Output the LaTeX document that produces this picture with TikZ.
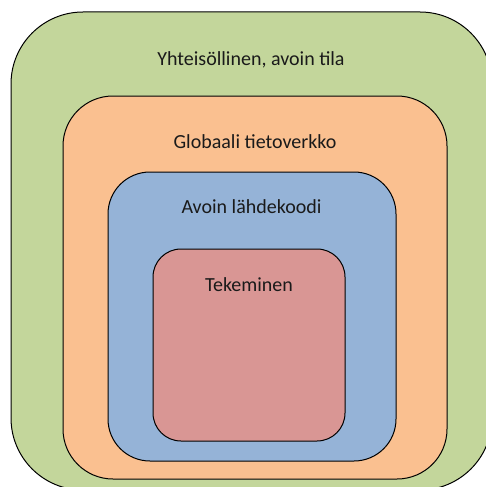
\documentclass[tikz,border=0pt]{standalone}
\usepackage{fontspec}
\setmainfont{Carlito}
\definecolor{layergreen}{HTML}{C3D69B}
\definecolor{layerorange}{HTML}{FAC090}
\definecolor{layerblue}{HTML}{95B3D7}
\definecolor{layerred}{HTML}{D99694}
\definecolor{labeltext}{HTML}{1A1A1A}
\begin{document}
\begin{tikzpicture}[x=1pt,y=-1pt,
  layer/.style={draw=black, line width=1pt, rectangle, inner sep=0pt, outer sep=0pt},
  layertext/.style={anchor=base, inner sep=0pt, text=labeltext, font=\fontsize{20}{24}\selectfont}]
  \useasboundingbox (0,0) rectangle (486,487);
  \begin{scope}
    \clip (0,0) rectangle (486,487);
    % nested rounded layers, outermost first
    \node[layer, fill=layergreen, rounded corners=72pt, minimum width=481pt, minimum height=478pt] (space) at (251.5,251) {};
    \node[layer, fill=layerorange, rounded corners=50pt, minimum width=384pt, minimum height=383pt] (net) at (255,287.5) {};
    \node[layer, fill=layerblue, rounded corners=42pt, minimum width=288pt, minimum height=289pt] (oss) at (252,316.5) {};
    \node[layer, fill=layerred, rounded corners=28pt, minimum width=192pt, minimum height=192pt] (doing) at (249,345) {};
  \end{scope}
  % layer captions
  \node[layertext] (spacelabel) at (251,66) {Yhteisöllinen, avoin tila};
  \node[layertext] (netlabel) at (255,148) {Globaali tietoverkko};
  \node[layertext] (osslabel) at (251.5,213) {Avoin lähdekoodi};
  \node[layertext] (doinglabel) at (249,291) {Tekeminen};
\end{tikzpicture}
\end{document}
